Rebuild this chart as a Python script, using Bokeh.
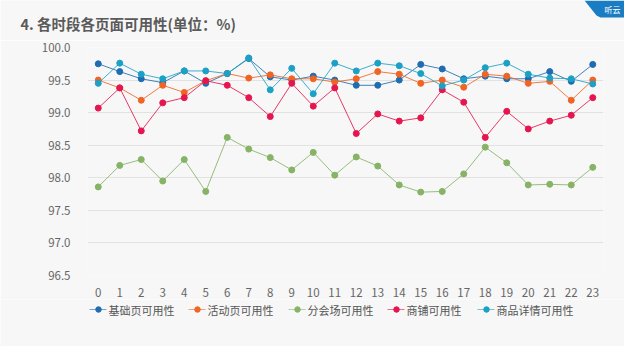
from bokeh.plotting import figure
from bokeh.models import Range1d, FixedTicker, NumeralTickFormatter
from bokeh.layouts import column
from bokeh.embed import file_html
from bokeh.resources import INLINE

hours = list(range(24))
hour_labels = [str(h) for h in hours]

jichu = [99.75, 99.63, 99.52, 99.46, 99.64, 99.45, 99.60, 99.83, 99.55, 99.50, 99.56, 99.50,
         99.42, 99.42, 99.50, 99.74, 99.67, 99.52, 99.56, 99.52, 99.52, 99.63, 99.48, 99.74]
huodong = [99.50, 99.38, 99.19, 99.42, 99.31, 99.49, 99.60, 99.53, 99.58, 99.52, 99.52, 99.47,
           99.52, 99.63, 99.59, 99.45, 99.50, 99.39, 99.59, 99.56, 99.45, 99.48, 99.19, 99.50]
fenhuichang = [97.86, 98.19, 98.28, 97.95, 98.28, 97.79, 98.62, 98.44, 98.31, 98.12, 98.39, 98.04,
               98.32, 98.18, 97.89, 97.78, 97.79, 98.06, 98.47, 98.23, 97.89, 97.90, 97.89, 98.16]
shangpu = [99.07, 99.38, 98.72, 99.15, 99.23, 99.49, 99.42, 99.23, 98.94, 99.45, 99.10, 99.38,
           98.68, 98.98, 98.87, 98.92, 99.35, 99.16, 98.62, 99.02, 98.75, 98.87, 98.96, 99.23]
xiangqing = [99.45, 99.76, 99.59, 99.52, 99.64, 99.64, 99.60, 99.84, 99.35, 99.68, 99.29, 99.76,
             99.64, 99.76, 99.72, 99.60, 99.41, 99.50, 99.69, 99.76, 99.59, 99.53, 99.52, 99.44]

series_names = ["基础页可用性", "活动页可用性", "分会场可用性", "商铺可用性", "商品详情可用性"]
series_values = [jichu, huodong, fenhuichang, shangpu, xiangqing]
colors = ["#1f6cb0", "#f06424", "#86b366", "#e5164f", "#1ba1c5"]

y_ticks = [96.5, 97.0, 97.5, 98.0, 98.5, 99.0, 99.5, 100.0]
title_text = "4. 各时段各页面可用性(单位：%)"

FONT = "Noto Sans CJK SC"
BG = "#f7f7f7"
W = 624


def bare(fig):
    fig.background_fill_color = BG
    fig.border_fill_color = BG
    fig.outline_line_color = None
    fig.grid.grid_line_color = None
    return fig


# ---- top strip: title + corner tab ----
top = bare(figure(frame_width=W, frame_height=40, output_backend="svg", toolbar_location=None,
                  x_range=Range1d(0, W), y_range=Range1d(40, 0),
                  x_axis_location=None, y_axis_location=None, frame_align=False,
                  min_border=0, min_border_left=0, min_border_right=0,
                  min_border_top=0, min_border_bottom=0))
top.text(x=[20], y=[23], text=[title_text], text_font={"value": FONT}, text_font_size="14.5px",
         text_font_style="bold", text_color="#5a5a5a", text_baseline="middle", text_align="left")
top.patch(x=[584, 624, 624, 600, 596, 592], y=[0, 0, 17, 17, 15, 10],
          fill_color="#1a7dc4", line_color=None)
top.text(x=[604], y=[9], text=["听云"], text_font={"value": FONT}, text_font_size="8px",
         text_color="white", text_baseline="middle", text_align="left")

# ---- main chart ----
p = figure(frame_width=516, frame_height=228, output_backend="svg", toolbar_location=None,
           x_range=Range1d(-0.5, 23.5), y_range=Range1d(96.5, 100.0), frame_align=False,
           min_border_left=87, min_border_right=21, min_border_top=7, min_border_bottom=22)
p.background_fill_color = BG
p.border_fill_color = BG
p.outline_line_color = None
p.xgrid.grid_line_color = None
p.ygrid.grid_line_color = "#e2e2e2"
p.ygrid.grid_line_width = 1

p.xaxis.ticker = FixedTicker(ticks=hours)
p.xaxis.major_label_overrides = {h: s for h, s in zip(hours, hour_labels)}
p.yaxis.ticker = FixedTicker(ticks=y_ticks)
p.yaxis.formatter = NumeralTickFormatter(format="0.0")
for ax in (p.xaxis, p.yaxis):
    ax.axis_line_color = None
    ax.major_tick_line_color = None
    ax.minor_tick_line_color = None
    ax.major_label_text_font = FONT
    ax.major_label_text_font_size = "11.5px"
    ax.major_label_text_color = "#666666"
p.xaxis.major_label_standoff = 6
p.yaxis.major_label_standoff = 11

for vals, c in zip(series_values, colors):
    p.line(hours, vals, line_color=c, line_width=1, line_alpha=0.85)
    p.scatter(hours, vals, size=6, fill_color=c, line_color=c)

# ---- legend strip ----
LH = 47
leg = bare(figure(frame_width=W, frame_height=LH, output_backend="svg", toolbar_location=None,
                  x_range=Range1d(0, W), y_range=Range1d(LH, 0),
                  x_axis_location=None, y_axis_location=None, frame_align=False,
                  min_border=0, min_border_left=0, min_border_right=0,
                  min_border_top=0, min_border_bottom=0))
item_left = [89, 188, 288, 387, 477]
ly = 10
for x0, name, c in zip(item_left, series_names, colors):
    leg.line([x0, x0 + 17], [ly, ly], line_color=c, line_width=1, line_alpha=0.6)
    leg.scatter([x0 + 9], [ly], size=5.5, fill_color=c, line_color=c)
    leg.text(x=[x0 + 19], y=[ly], text=[name], text_font={"value": FONT}, text_font_size="11px",
             text_color="#555555", text_baseline="middle", text_align="left")

layout = column(top, p, leg, spacing=0)
open("out.html", "w").write(file_html(layout, INLINE))
